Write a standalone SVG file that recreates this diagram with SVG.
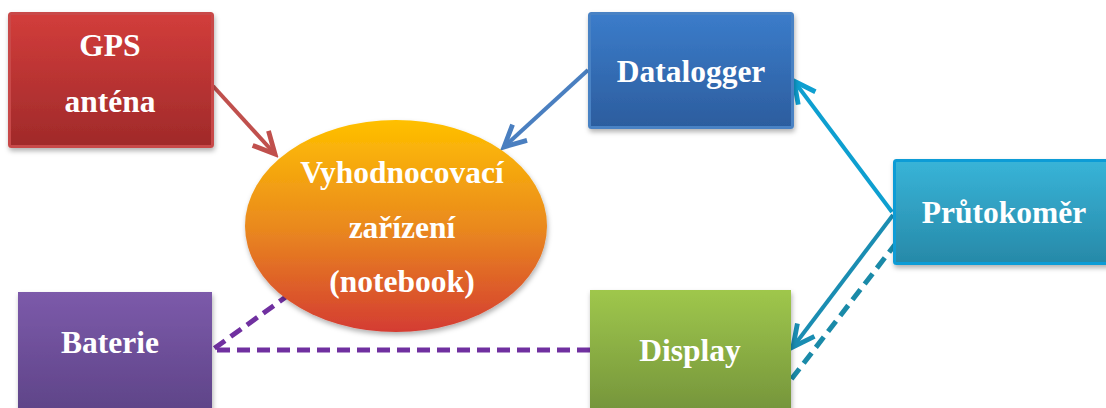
<svg xmlns="http://www.w3.org/2000/svg" width="1106" height="408" viewBox="0 0 1106 408">
  <defs>
    <linearGradient id="gRed" x1="0" y1="0" x2="0" y2="1">
      <stop offset="0" stop-color="#d23d3b"/>
      <stop offset="1" stop-color="#a02a2a"/>
    </linearGradient>
    <linearGradient id="gBlue" x1="0" y1="0" x2="0" y2="1">
      <stop offset="0" stop-color="#3b7cca"/>
      <stop offset="1" stop-color="#2c5d9e"/>
    </linearGradient>
    <linearGradient id="gCyan" x1="0" y1="0" x2="0" y2="1">
      <stop offset="0" stop-color="#38b4d8"/>
      <stop offset="1" stop-color="#2789a8"/>
    </linearGradient>
    <linearGradient id="gPurple" x1="0" y1="0" x2="0" y2="1">
      <stop offset="0" stop-color="#7c5aaa"/>
      <stop offset="1" stop-color="#5c4285"/>
    </linearGradient>
    <linearGradient id="gGreen" x1="0" y1="0" x2="0" y2="1">
      <stop offset="0" stop-color="#9fc74c"/>
      <stop offset="1" stop-color="#72913a"/>
    </linearGradient>
    <linearGradient id="gOrange" x1="0" y1="0" x2="0" y2="1">
      <stop offset="0" stop-color="#ffc000"/>
      <stop offset="0.5" stop-color="#ea8a1e"/>
      <stop offset="1" stop-color="#d43c32"/>
    </linearGradient>
    <filter id="shadow" x="-10%" y="-10%" width="125%" height="130%">
      <feDropShadow dx="1" dy="3" stdDeviation="2.5" flood-color="#000" flood-opacity="0.3"/>
    </filter>
    <!-- open arrowheads, one per connector colour -->
    <marker id="aRed" markerUnits="userSpaceOnUse" markerWidth="30" markerHeight="30" viewBox="-24 -12 28 24" refX="0" refY="0" orient="auto">
      <path d="M -20 -10 L 0 0 L -20 10" fill="none" stroke="#c0504d" stroke-width="4.5"/>
    </marker>
    <marker id="aBlue" markerUnits="userSpaceOnUse" markerWidth="30" markerHeight="30" viewBox="-24 -12 28 24" refX="0" refY="0" orient="auto">
      <path d="M -20 -10 L 0 0 L -20 10" fill="none" stroke="#4a7fc0" stroke-width="4.5"/>
    </marker>
    <marker id="aCyan" markerUnits="userSpaceOnUse" markerWidth="30" markerHeight="30" viewBox="-24 -12 28 24" refX="0" refY="0" orient="auto">
      <path d="M -20 -10 L 0 0 L -20 10" fill="none" stroke="#0e9fd0" stroke-width="4.5"/>
    </marker>
    <marker id="aTeal" markerUnits="userSpaceOnUse" markerWidth="30" markerHeight="30" viewBox="-24 -12 28 24" refX="0" refY="0" orient="auto">
      <path d="M -20 -10 L 0 0 L -20 10" fill="none" stroke="#1a8db2" stroke-width="4.5"/>
    </marker>
  </defs>
  <style>
    .lbl { font-family: "Liberation Serif", "Times New Roman", serif; font-weight: bold; font-size: 31.5px; fill: #ffffff; text-anchor: middle; }
    .box { filter: url(#shadow); stroke-width: 3; }
    .con { fill: none; stroke-width: 4; }
    .dash { fill: none; stroke-width: 5; stroke-dasharray: 13 7; }
  </style>

  <!-- connectors -->
  <g id="connectors">
    <line class="con" x1="213" y1="86" x2="275" y2="154" stroke="#c0504d" marker-end="url(#aRed)"/>
    <line class="con" x1="588" y1="70" x2="504" y2="147" stroke="#4a7fc0" marker-end="url(#aBlue)"/>
    <line class="con" x1="892" y1="212" x2="794" y2="81" stroke="#0e9fd0" marker-end="url(#aCyan)"/>
    <line class="con" x1="893" y1="215" x2="793" y2="347" stroke="#1a8db2" marker-end="url(#aTeal)"/>
    <line class="dash" x1="897" y1="242" x2="790" y2="381" stroke="#1a8aa8" stroke-width="4.5"/>
    <line class="dash" x1="290" y1="294" x2="212" y2="350" stroke="#7030a0"/>
    <line class="dash" x1="590" y1="350" x2="212" y2="350" stroke="#7030a0"/>
  </g>

  <!-- nodes -->
  <g id="gps">
    <rect class="box" x="9.5" y="13.5" width="203" height="133" rx="2" fill="url(#gRed)" stroke="#c84a48"/>
    <text class="lbl" x="110" y="56">GPS</text>
    <text class="lbl" x="110" y="112">anténa</text>
  </g>
  <g id="datalogger">
    <rect class="box" x="589.5" y="13.5" width="203" height="114" rx="2" fill="url(#gBlue)" stroke="#4a82c4"/>
    <text class="lbl" x="691" y="82">Datalogger</text>
  </g>
  <g id="prutokomer">
    <rect class="box" x="894.5" y="160.5" width="215" height="103" rx="2" fill="url(#gCyan)" stroke="#0a9cd6"/>
    <text class="lbl" x="1004" y="223">Průtokoměr</text>
  </g>
  <g id="baterie">
    <rect class="box" x="18" y="292" width="194" height="130" fill="url(#gPurple)"/>
    <text class="lbl" x="110" y="353">Baterie</text>
  </g>
  <g id="display">
    <rect class="box" x="590" y="290" width="201" height="130" fill="url(#gGreen)"/>
    <text class="lbl" x="690" y="361">Display</text>
  </g>
  <g id="vyhodnocovaci">
    <ellipse cx="396" cy="226" rx="151" ry="106" fill="url(#gOrange)" filter="url(#shadow)"/>
    <text class="lbl" x="402" y="183">Vyhodnocovací</text>
    <text class="lbl" x="402" y="238">zařízení</text>
    <text class="lbl" x="402" y="292">(notebook)</text>
  </g>
</svg>
